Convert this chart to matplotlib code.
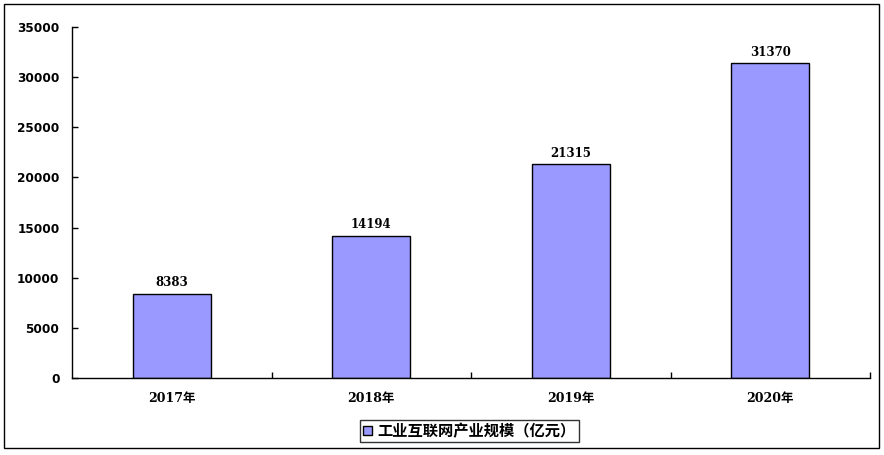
import matplotlib
matplotlib.use("Agg")
import matplotlib.pyplot as plt
from matplotlib.patches import Rectangle

categories = ["2017年", "2018年", "2019年", "2020年"]
values = [8383, 14194, 21315, 31370]
series_name = "工业互联网产业规模（亿元）"
yticks = [0, 5000, 10000, 15000, 20000, 25000, 30000, 35000]

plt.rcParams['font.family'] = ['DejaVu Sans', 'Noto Sans CJK SC']
serif = ['DejaVu Serif', 'Noto Sans CJK SC']

fig = plt.figure(figsize=(8.84, 4.55), dpi=100)
ax = fig.add_axes([72/884, 77/455, (870-72)/884, (378-27)/455])

x = list(range(len(categories)))
ax.bar(x, values, width=0.39, color="#9999FF", edgecolor="black", linewidth=1.0,
       label=series_name, zorder=2)
for xi, v in zip(x, values):
    ax.text(xi, v + 450, str(v), ha="center", va="bottom", fontsize=8.5, fontweight="bold",
            family=serif)

ax.set_xlim(-0.5, len(categories) - 0.5)
ax.set_ylim(0, 35000)
ax.set_yticks(yticks)
ax.set_yticklabels([str(t) for t in yticks], fontsize=8.7, fontweight="bold")
ax.set_xticks(x)
ax.set_xticklabels(categories, fontsize=9, fontweight="bold", family=serif)
ax.set_xticks([0.5, 1.5, 2.5, 3.5], minor=True)
ax.tick_params(axis="x", which="major", length=0, pad=10)
ax.tick_params(axis="x", which="minor", direction="in", length=4, width=1)
ax.tick_params(axis="y", direction="in", length=4, width=1, pad=9)
for s in ["top", "right"]:
    ax.spines[s].set_visible(False)
for s in ["left", "bottom"]:
    ax.spines[s].set_linewidth(1.0)

leg = fig.legend(loc="center", bbox_to_anchor=(469.5/884, 1 - 431/455), frameon=True,
                 fancybox=False, edgecolor="black",
                 prop={'weight': 'bold', 'size': 11, 'family': ['Noto Sans CJK SC']},
                 handlelength=0.55, handleheight=0.55, handletextpad=0.4, borderpad=0.2,
                 borderaxespad=0)
leg.get_frame().set_linewidth(1.0)

fig.patches.append(Rectangle((4/884, 1 - 448/455), 875/884, 444/455, transform=fig.transFigure,
                             fill=False, edgecolor="black", linewidth=1.0))

fig.savefig("out.png", dpi=100)
